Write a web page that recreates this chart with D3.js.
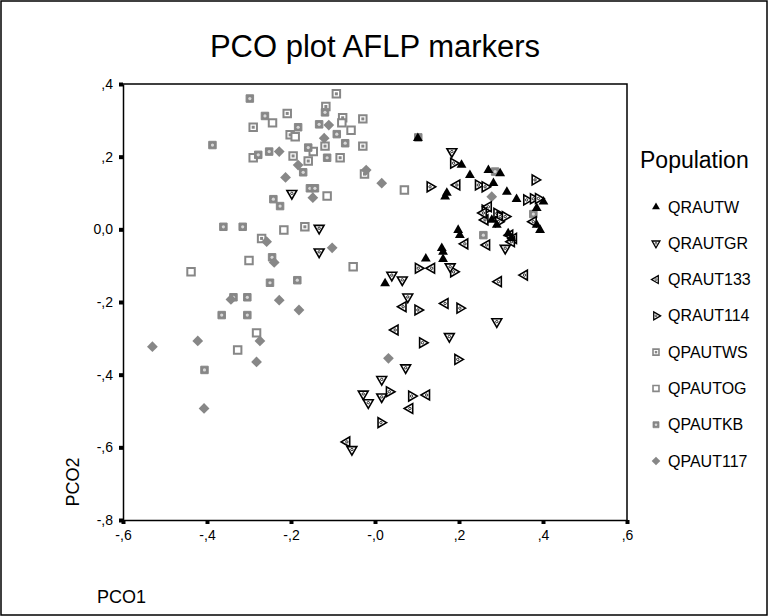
<!DOCTYPE html>
<html>
<head>
<meta charset="utf-8">
<script src="https://cdn.jsdelivr.net/npm/d3@7"></script>
<style>
  body { margin: 0; background: #fff; }
  svg { font-family: Arial, "Liberation Sans", sans-serif; }
</style>
</head>
<body>
<svg width="768" height="616"></svg>
<script>
// population names, in legend order
const populations = ['QRAUTW', 'QRAUTGR', 'QRAUT133', 'QRAUT114', 'QPAUTWS', 'QPAUTOG', 'QPAUTKB', 'QPAUT117'];

// PCO1 / PCO2 scores, one array per population
const qrautw = [[0.206,0.177],[0.226,0.149],[0.270,0.163],[0.298,0.154],[0.282,0.127],[0.167,0.090],[0.171,0.100],
  [0.314,0.103],[0.337,0.083],[0.401,0.076],[0.385,0.058],[0.278,0.026],[0.290,0.012],[0.198,-0.002],[0.202,-0.016],
  [0.317,-0.011],[0.325,-0.025],[0.385,0.012],[0.393,-0.002],[0.159,-0.052],[0.162,-0.062],[0.162,-0.082],
  [0.121,-0.081],[0.024,-0.149],[0.102,0.251]];
const qrautgr = [[-0.198,0.099],[-0.133,0.003],[-0.133,-0.062],[0.183,0.214],[0.310,-0.052],[0.179,-0.103],
  [0.040,-0.126],[0.065,-0.139],[0.078,-0.186],[0.290,-0.254],[0.177,-0.295],[0.073,-0.381],[0.016,-0.413],
  [-0.028,-0.453],[-0.016,-0.477],[0.016,-0.461],[-0.055,-0.606]];
const qraut133 = [[0.214,-0.040],[0.266,-0.043],[0.135,-0.107],[0.356,-0.126],[0.294,-0.144],[0.067,-0.213],
  [0.167,-0.204],[0.048,-0.277],[0.123,-0.456],[0.083,-0.493],[-0.067,-0.585],[0.195,0.122],[0.270,0.062],
  [0.262,0.026],[0.377,0.021],[0.321,-0.016],[0.330,-0.025],[0.258,0.045],[0.325,-0.034]];
const qraut114 = [[0.187,0.182],[0.131,0.117],[0.246,0.122],[0.262,0.117],[0.381,0.136],[0.361,0.081],[0.377,0.084],
  [0.389,0.085],[0.262,0.053],[0.290,0.044],[0.298,0.035],[0.310,0.035],[0.294,0.021],[0.103,-0.107],[0.187,-0.117],
  [0.102,-0.222],[0.202,-0.217],[0.113,-0.312],[0.197,-0.358],[0.034,-0.447],[0.087,-0.459],[0.014,-0.532]];
const qpautws = [[-0.092,0.373],[-0.209,0.319],[-0.290,0.281],[-0.202,0.260],[-0.077,0.307],[-0.029,0.304],
  [-0.119,0.229],[-0.029,0.229],[-0.195,0.202],[-0.159,0.188],[-0.083,0.197],[-0.025,0.152],[-0.167,0.007],
  [-0.270,-0.025],[-0.117,0.338]];
const qpautog = [[-0.244,0.293],[-0.190,0.255],[-0.079,0.293],[-0.057,0.273],[-0.290,0.197],[-0.147,0.214],
  [-0.114,0.092],[-0.217,-0.002],[-0.300,-0.086],[-0.052,-0.103],[-0.438,-0.117],[-0.282,-0.285],[-0.327,-0.332],
  [0.070,0.108]];
const qpautkb = [[-0.298,0.360],[-0.262,0.312],[-0.183,0.281],[-0.133,0.289],[-0.091,0.262],[-0.071,0.237],
  [-0.387,0.232],[-0.252,0.214],[-0.278,0.205],[-0.159,0.225],[-0.114,0.197],[-0.171,0.157],[-0.242,0.083],
  [-0.226,0.064],[-0.155,0.113],[-0.143,0.113],[-0.361,0.007],[-0.315,0.007],[-0.250,-0.147],[-0.185,-0.140],
  [-0.304,-0.187],[-0.365,-0.236],[-0.304,-0.236],[-0.406,-0.387],[0.286,0.159],[0.377,0.042],[0.258,-0.016],
  [0.103,0.253],[-0.245,-0.077],[-0.337,-0.187],[-0.119,0.322]];
const qpaut117 = [[-0.110,0.287],[-0.121,0.251],[-0.228,0.214],[-0.183,0.177],[-0.213,0.143],[-0.021,0.163],
  [-0.148,0.087],[0.016,0.127],[-0.258,-0.034],[-0.102,-0.051],[-0.240,-0.091],[-0.343,-0.193],[-0.228,-0.195],
  [-0.181,-0.222],[-0.274,-0.307],[-0.530,-0.323],[-0.422,-0.307],[-0.282,-0.365],[-0.407,-0.493],[0.032,-0.355],
  [0.278,0.090]];

// axis ticks
const xTicks = [-0.6, -0.4, -0.2, 0, 0.2, 0.4, 0.6];
const yTicks = [0.4, 0.2, 0, -0.2, -0.4, -0.6, -0.8];

const seriesPoints = [qrautw, qrautgr, qraut133, qraut114, qpautws, qpautog, qpautkb, qpaut117];

const svg = d3.select('svg');
const margin = { top: 84, left: 123, right: 141, bottom: 96 };
const W = 768, H = 616;
const innerW = W - margin.left - margin.right;
const innerH = H - margin.top - margin.bottom;

// outer frame of the whole picture
svg.append('rect')
  .attr('x', 1).attr('y', 1).attr('width', W - 2).attr('height', H - 2)
  .attr('fill', 'none').attr('stroke', '#000').attr('stroke-width', 1.5);

svg.append('text')
  .attr('x', 375).attr('y', 57)
  .attr('text-anchor', 'middle')
  .attr('font-size', 31)
  .text('PCO plot AFLP markers');

const g = svg.append('g').attr('transform', `translate(${margin.left},${margin.top})`);

const x = d3.scaleLinear().domain([-0.6, 0.6]).range([0, innerW]);
const y = d3.scaleLinear().domain([-0.8, 0.4]).range([innerH, 0]);

// SPSS style number labels: ",4"  "-,2"  "0,0"
const fmt = zeroLabel => v => {
  if (Math.abs(v) < 1e-9) return zeroLabel;
  return (v < 0 ? '-' : '') + d3.format('.1f')(Math.abs(v)).replace('0.', ',');
};

const xAxis = g.append('g')
  .attr('transform', `translate(0,${innerH})`)
  .call(d3.axisBottom(x).tickValues(xTicks).tickFormat(fmt('-,0')).tickSize(4).tickSizeOuter(0).tickPadding(6));
const yAxis = g.append('g')
  .call(d3.axisLeft(y).tickValues(yTicks).tickFormat(fmt('0,0')).tickSize(4).tickSizeOuter(0).tickPadding(6));

[xAxis, yAxis].forEach(a => {
  a.select('.domain').attr('stroke', '#000').attr('stroke-width', 1.5);
  a.selectAll('.tick line').attr('stroke', '#000').attr('stroke-width', 4);
  a.selectAll('.tick text').attr('font-size', 14).attr('fill', '#000')
    .attr('font-family', 'Arial, "Liberation Sans", sans-serif');
});

// top and right frame lines
g.append('path')
  .attr('d', `M0,0H${innerW}V${innerH}`)
  .attr('fill', 'none').attr('stroke', '#000').attr('stroke-width', 1.5);

// marker drawing, one style per population
const grey = '#878787';
const tri = d3.symbol().type(d3.symbolTriangle).size(42)();
const sq = d3.symbol().type(d3.symbolSquare).size(56)();
const diamond = d3.symbol().type(d3.symbolSquare).size(58)();

const drawMarker = (sel, i) => {
  if (i === 0) {
    sel.append('path').attr('d', tri).attr('fill', '#000');
  } else if (i <= 3) {
    const rot = [0, 180, -90, 90][i];
    sel.append('path').attr('d', tri).attr('transform', `rotate(${rot})`)
      .attr('fill', '#fff').attr('stroke', '#000').attr('stroke-width', 1.6);
    sel.append('circle').attr('r', 1.2).attr('fill', 'none').attr('stroke', '#000').attr('stroke-width', 0.8);
  } else if (i === 4) {
    sel.append('path').attr('d', sq).attr('fill', '#fff').attr('stroke', grey).attr('stroke-width', 2);
    sel.append('rect').attr('x', -1.5).attr('y', -1.5).attr('width', 3).attr('height', 3).attr('fill', grey);
  } else if (i === 5) {
    sel.append('path').attr('d', sq).attr('fill', '#fff').attr('stroke', grey).attr('stroke-width', 2);
  } else if (i === 6) {
    sel.append('path').attr('d', sq).attr('fill', grey).attr('stroke', grey).attr('stroke-width', 1);
    sel.append('circle').attr('r', 1.6).attr('fill', '#d8d8d8');
  } else {
    sel.append('path').attr('d', diamond).attr('transform', 'rotate(45)').attr('fill', grey);
  }
};

// draw grey groups first, then the black ones on top
[4, 5, 6, 7, 3, 2, 1, 0].forEach(i => {
  g.append('g').selectAll('g').data(seriesPoints[i]).enter().append('g')
    .attr('transform', d => `translate(${x(d[0])},${y(d[1])})`)
    .each(function () { drawMarker(d3.select(this), i); });
});

// axis titles
svg.append('text')
  .attr('transform', 'translate(79,482) rotate(-90)')
  .attr('text-anchor', 'middle').attr('font-size', 18)
  .text('PCO2');
svg.append('text')
  .attr('x', 97).attr('y', 603).attr('font-size', 18)
  .text('PCO1');

// legend
const legend = svg.append('g');
legend.append('text').attr('x', 640).attr('y', 168).attr('font-size', 23).text('Population');
const ly = d3.scalePoint().domain(populations).range([207, 461]);
populations.forEach((p, i) => {
  const item = legend.append('g').attr('transform', `translate(656,${ly(p)})`);
  item.append('g').attr('transform', 'scale(0.8)').call(sel => drawMarker(sel, i));
  item.append('text').attr('x', 12).attr('y', 5.5).attr('font-size', 16).text(p);
});
</script>
</body>
</html>
